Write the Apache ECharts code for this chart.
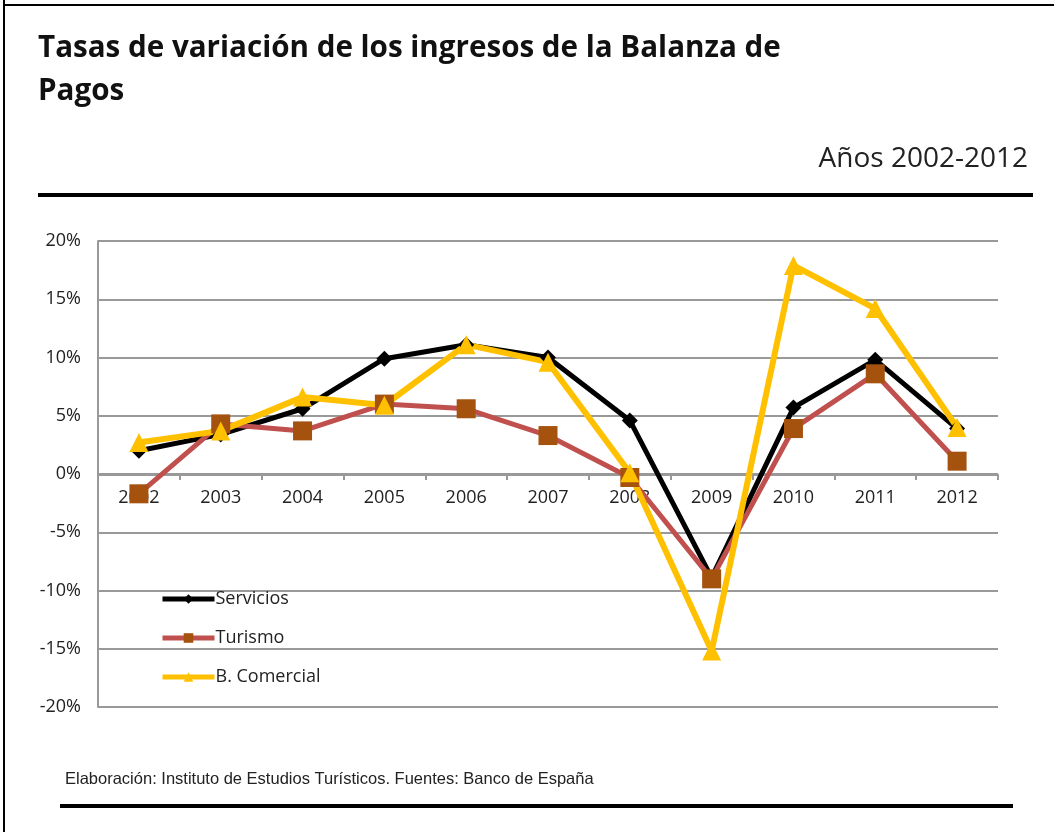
<!DOCTYPE html>
<html>
<head>
<meta charset="utf-8">
<script src="https://cdn.jsdelivr.net/npm/echarts@6/dist/echarts.min.js"></script>
<style>
html,body{margin:0;padding:0;background:#fff;}
#chart{width:1054px;height:832px;}
</style>
</head>
<body>
<div id="chart"></div>
<script>
const categories = ['2002','2003','2004','2005','2006','2007','2008','2009','2010','2011','2012'];
const servicios = [2.0, 3.4, 5.6, 9.9, 11.1, 10.0, 4.6, -8.9, 5.7, 9.8, 3.9];
const turismo = [-1.7, 4.3, 3.7, 6.0, 5.6, 3.3, -0.3, -9.0, 3.9, 8.6, 1.1];
const comercial = [2.7, 3.7, 6.6, 5.9, 11.1, 9.6, 0.1, -15.2, 17.9, 14.2, 4.0];
const yTicks = [-20, -15, -10, -5, 0, 5, 10, 15, 20];

const font = 'Open Sans';
const chart = echarts.init(document.getElementById('chart'), null, {renderer: 'canvas'});
chart.setOption({
  backgroundColor: '#ffffff',
  animation: false,
  title: [
    {text: 'Tasas de variación de los ingresos de la Balanza de\nPagos', left: 33, top: 22,
     textStyle: {fontFamily: font, fontWeight: 'bold', fontSize: 29.6, lineHeight: 43, color: '#111'}},
    {text: 'Años 2002-2012', right: 21, top: 136,
     textStyle: {fontFamily: font, fontWeight: 'normal', fontSize: 28, lineHeight: 36, color: '#222'}},
    {text: 'Elaboración: Instituto de Estudios Turísticos. Fuentes: Banco de España', left: 60, top: 766,
     textStyle: {fontFamily: 'Liberation Sans', fontWeight: 'normal', fontSize: 16.5, color: '#222'}}
  ],
  graphic: [
    {type: 'rect', shape: {x: 3, y: 0, width: 2, height: 832}, style: {fill: '#000'}},
    {type: 'rect', shape: {x: 3, y: 4, width: 1051, height: 2}, style: {fill: '#000'}},
    {type: 'rect', shape: {x: 38, y: 193, width: 995, height: 4}, style: {fill: '#000'}},
    {type: 'rect', shape: {x: 60, y: 804, width: 953, height: 4}, style: {fill: '#000'}}
  ],
  legend: {
    orient: 'vertical', left: 155, top: 584, itemWidth: 52, itemHeight: 12, itemGap: 19,
    lineStyle: {width: 5},
    textStyle: {fontFamily: font, fontSize: 18, lineHeight: 20, color: '#222', padding: [0,0,0,-4]},
    data: ['Servicios', 'Turismo', 'B. Comercial']
  },
  grid: {left: 98, right: 56, top: 241, bottom: 125},
  xAxis: {
    type: 'category', data: categories, boundaryGap: true, offset: -232,
    axisLine: {onZero: false, lineStyle: {color: '#999', width: 2}},
    axisTick: {show: true, length: 5, lineStyle: {color: '#999', width: 2}},
    axisLabel: {fontFamily: font, fontSize: 18, color: '#222', margin: 14}
  },
  yAxis: {
    type: 'value', min: -20, max: 20, interval: 5,
    axisLine: {show: true, lineStyle: {color: '#999', width: 2}},
    axisTick: {show: false},
    splitLine: {lineStyle: {color: '#999', width: 2}},
    axisLabel: {fontFamily: font, fontSize: 18, color: '#222', margin: 17,
      formatter: v => yTicks.includes(v) ? v + '%' : ''}
  },
  series: [
    {name: 'Servicios', type: 'line', data: servicios, symbol: 'diamond', symbolSize: 16,
     lineStyle: {color: '#000', width: 5}, itemStyle: {color: '#000'}},
    {name: 'Turismo', type: 'line', data: turismo, symbol: 'rect', symbolSize: 19,
     lineStyle: {color: '#C0504D', width: 5}, itemStyle: {color: '#A5520F'}},
    {name: 'B. Comercial', type: 'line', data: comercial, symbol: 'triangle', symbolSize: 19,
     lineStyle: {color: '#FFC000', width: 6}, itemStyle: {color: '#FFC000'}}
  ]
});
</script>
</body>
</html>
